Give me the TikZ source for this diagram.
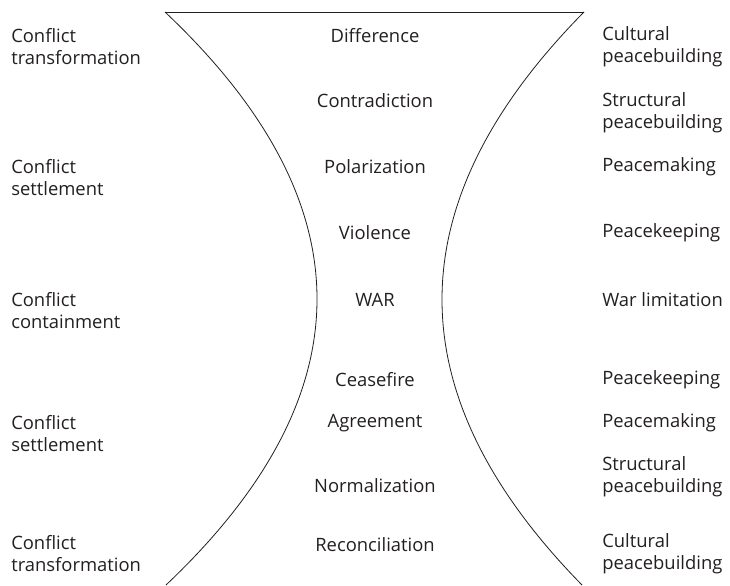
\documentclass[tikz,border=0pt]{standalone}
\usepackage{fontspec}
\setmainfont{Open Sans}
\definecolor{ink}{HTML}{231F20}
\begin{document}
\begin{tikzpicture}[x=0.75pt,y=-0.75pt,
  lbl/.style={inner sep=0pt,align=left,anchor=west,text=ink,font=\fontsize{13.8}{16.5}\selectfont},
  mid/.style={inner sep=0pt,anchor=center,text=ink,font=\fontsize{13.8}{16.5}\selectfont},
  edge/.style={draw=ink,line width=0.6pt}]
\useasboundingbox (0,0) rectangle (730,585);
% hourglass outline
\coordinate (tl) at (165,12);
\coordinate (tr) at (584,12);
\coordinate (bl) at (166,585);
\coordinate (br) at (582,585);
\draw[edge] (tl) -- (tr);
\draw[edge] (tl) .. controls (367.3,203) and (367.7,394) .. (bl);
\draw[edge] (tr) .. controls (395.3,203) and (394.7,394) .. (br);
% left column
\node[lbl] (l1) at (11,47) {Conflict\\transformation};
\node[lbl] (l2) at (11,178) {Conflict\\settlement};
\node[lbl] (l3) at (11,311) {Conflict\\containment};
\node[lbl] (l4) at (11,434) {Conflict\\settlement};
\node[lbl] (l5) at (11,554) {Conflict\\transformation};
% centre column
\node[mid] (c1) at (375,36) {Difference};
\node[mid] (c2) at (375,101) {Contradiction};
\node[mid] (c3) at (375,167) {Polarization};
\node[mid] (c4) at (375,233) {Violence};
\node[mid] (c5) at (375,300) {WAR};
\node[mid] (c6) at (375,380) {Ceasefire};
\node[mid] (c7) at (375,423) {Agreement};
\node[mid] (c8) at (375,486) {Normalization};
\node[mid] (c9) at (375,545) {Reconciliation};
% right column
\node[lbl] (r1) at (602,47) {Cultural\\peacebuilding};
\node[lbl] (r2) at (602,113) {Structural\\peacebuilding};
\node[lbl] (r3) at (602,167) {Peacemaking};
\node[lbl] (r4) at (602,233) {Peacekeeping};
\node[lbl] (r5) at (602,300) {War limitation};
\node[lbl] (r6) at (602,380) {Peacekeeping};
\node[lbl] (r7) at (602,423) {Peacemaking};
\node[lbl] (r8) at (602,477) {Structural\\peacebuilding};
\node[lbl] (r9) at (602,554) {Cultural\\peacebuilding};
\end{tikzpicture}
\end{document}
